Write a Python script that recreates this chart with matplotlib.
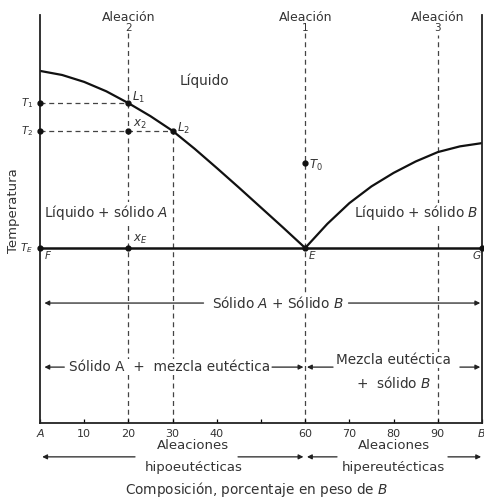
import matplotlib
matplotlib.use("Agg")
import matplotlib.pyplot as plt

plt.rcParams['font.family'] = ['DejaVu Sans']

# Liquidus curves (composition %B, temperature arbitrary units)
left_x = [0, 5, 10, 15, 20, 25, 30, 35, 40, 45, 50, 55, 60]
left_t = [86.3, 85.3, 83.6, 81.3, 78.4, 75.2, 71.6, 67.2, 62.5, 57.7, 52.8, 47.9, 42.9]
right_x = [60, 65, 70, 75, 80, 85, 90, 95, 100]
right_t = [42.9, 48.8, 53.9, 58.0, 61.3, 64.1, 66.4, 67.8, 68.6]

T_E = 42.9
T_1 = 78.4
T_2 = 71.6
T_0 = 63.7
alloys = [20, 60, 90]
alloy_names = ["2", "1", "3"]
tick_pos = [0, 10, 20, 30, 40, 50, 60, 70, 80, 90, 100]
tick_labels = ["A", "10", "20", "30", "40", "", "60", "70", "80", "90", "B"]

txt = '#333333'
fig = plt.figure(figsize=(4.85, 5.0), dpi=100)
ax = fig.add_axes([40/485, 77/500, 442/485, 408/500])
ax.set_xlim(0, 100)
ax.set_ylim(0, 100)
ax.spines['top'].set_visible(False)
for s in ['left', 'right', 'bottom']:
    ax.spines[s].set_linewidth(1.3)
    ax.spines[s].set_color('#222222')

# Curves
ax.plot(left_x, left_t, color='#111111', lw=1.6, solid_capstyle='round')
ax.plot(right_x, right_t, color='#111111', lw=1.6, solid_capstyle='round')
ax.plot([0, 100], [T_E, T_E], color='#111111', lw=1.8)

# Dashed guide lines
dash = dict(color='#444444', lw=0.9, ls=(0, (4, 3)), zorder=1)
ax.plot([20, 20], [0, 95.8], **dash)
ax.plot([60, 60], [0, 96.0], **dash)
ax.plot([90, 90], [0, 95.0], **dash)
ax.plot([30, 30], [0, T_2], **dash)
ax.plot([0, 20], [T_1, T_1], **dash)
ax.plot([0, 30], [T_2, T_2], **dash)

# Points
px = [0, 0, 0, 20, 20, 20, 30, 60, 60, 100]
py = [T_1, T_2, T_E, T_1, T_2, T_E, T_2, T_0, T_E, T_E]
ax.plot(px, py, 'o', color='#111111', ms=3.5, clip_on=False, zorder=5)

# Top labels
for a, n in zip(alloys, alloy_names):
    ax.text(a, 99.3, "Aleación", ha='center', va='center', fontsize=9, color=txt, clip_on=False)
    ax.text(a, 96.8, n, ha='center', va='center', fontsize=7.5, color=txt, clip_on=False)

# Point labels
fs = 8.5
ax.text(20.8, 78.9, r"$L_1$", fontsize=fs, color=txt)
ax.text(21.0, 72.6, r"$x_2$", fontsize=fs, color=txt)
ax.text(30.9, 71.3, r"$L_2$", fontsize=fs, color=txt)
ax.text(60.8, 62.2, r"$T_0$", fontsize=fs, color=txt)
ax.text(21.0, 44.5, r"$x_E$", fontsize=fs, color=txt)
ax.text(0.8, 40.3, r"$F$", fontsize=7.5, color=txt)
ax.text(60.6, 40.3, r"$E$", fontsize=7.5, color=txt)
ax.text(97.8, 40.3, r"$G$", fontsize=7.5, color=txt)
ax.text(-1.5, T_1, r"$T_1$", fontsize=7.5, color=txt, ha='right', va='center', clip_on=False)
ax.text(-1.5, T_2, r"$T_2$", fontsize=7.5, color=txt, ha='right', va='center', clip_on=False)
ax.text(-1.5, T_E, r"$T_E$", fontsize=7.5, color=txt, ha='right', va='center', clip_on=False)

wb = dict(fc='white', ec='none', pad=0.6)
rfs = 9.8

# Region labels
ax.text(37.3, 84.0, "Líquido", ha='center', va='center', fontsize=rfs, color=txt)
ax.text(15.0, 51.6, "Líquido + sólido $A$", ha='center', va='center', fontsize=rfs,
        color=txt, bbox=wb, zorder=3)
ax.text(85.0, 51.5, "Líquido + sólido $B$", ha='center', va='center', fontsize=rfs,
        color=txt, bbox=wb, zorder=3)

ap = dict(arrowstyle='-|>', color='#222222', lw=0.9, mutation_scale=7, shrinkA=0, shrinkB=0)

def harrow(x0, x1, y):
    ax.annotate('', xy=(x1, y), xytext=(x0, y), arrowprops=ap, annotation_clip=False)

# Sólido A + Sólido B
ax.text(53.8, 29.4, "Sólido $A$ + Sólido $B$", ha='center', va='center', fontsize=rfs,
        color=txt, bbox=wb, zorder=3)
harrow(37.0, 1.0, 29.4)
harrow(69.8, 99.6, 29.4)

# Sólido A + mezcla eutéctica
ax.text(29.2, 13.7, "Sólido A  +  mezcla eutéctica", ha='center', va='center', fontsize=rfs,
        color=txt, bbox=wb, zorder=3)
harrow(5.5, 1.0, 13.7)
harrow(52.5, 59.6, 13.7)
harrow(66.3, 60.4, 13.7)
ax.text(80.0, 15.4, "Mezcla eutéctica", ha='center', va='center', fontsize=rfs,
        color=txt, bbox=wb, zorder=3)
ax.text(80.0, 9.8, "+  sólido $B$", ha='center', va='center', fontsize=rfs,
        color=txt, bbox=wb, zorder=3)
harrow(95.0, 99.6, 13.7)

# Axis ticks
ax.set_xticks(tick_pos)
ax.set_xticklabels(tick_labels, fontsize=8, color=txt)
for lab in ax.get_xticklabels():
    if lab.get_text() in ("A", "B"):
        lab.set_fontstyle('italic')
ax.tick_params(axis='x', direction='in', length=3, width=0.9, pad=4)
ax.set_yticks([])

# Below-axis alloy classes
bfs = 9.5
ax.text(34.7, -5.6, "Aleaciones", ha='center', va='center', fontsize=bfs, color=txt, clip_on=False)
ax.text(34.7, -10.8, "hipoeutécticas", ha='center', va='center', fontsize=bfs, color=txt, clip_on=False)
harrow(21.5, 0.5, -8.3)
harrow(44.8, 59.6, -8.3)
ax.text(80.0, -5.6, "Aleaciones", ha='center', va='center', fontsize=bfs, color=txt, clip_on=False)
ax.text(80.0, -10.8, "hipereutécticas", ha='center', va='center', fontsize=bfs, color=txt, clip_on=False)
harrow(67.2, 60.4, -8.3)
harrow(92.3, 99.8, -8.3)

ax.text(49.1, -16.4, "Composición, porcentaje en peso de $B$", ha='center', va='center',
        fontsize=9.8, color=txt, clip_on=False)

fig.text(14/485, 1 - 211/500, "Temperatura", rotation=90, ha='center', va='center',
         fontsize=9.5, color=txt)

fig.savefig("out.png", dpi=100, facecolor='white')
